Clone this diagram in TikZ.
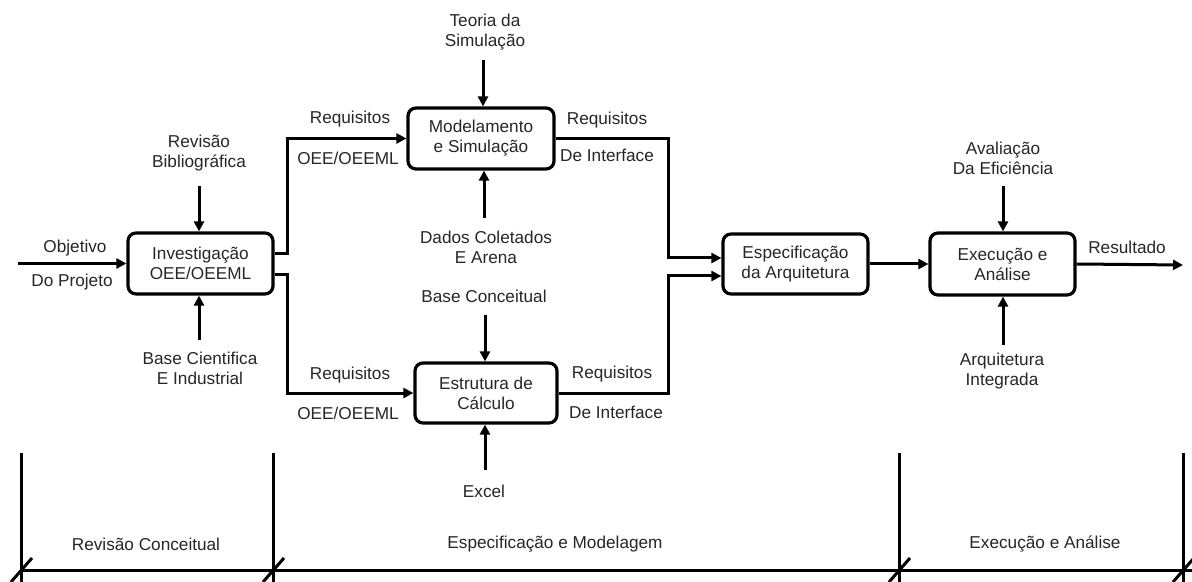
\documentclass[tikz,border=0pt]{standalone}
\usepackage{fontspec}
\setmainfont{Liberation Sans}
\usetikzlibrary{arrows.meta}
\begin{document}
\begin{tikzpicture}[x=0.5pt,y=-0.5pt,
  every node/.style={font=\fontsize{8.6}{10}\selectfont, text=black!85},
  procbox/.style={draw=black, line width=1.6pt, rounded corners=4pt, align=center,
    inner sep=0pt},
  lbl/.style={align=center, inner sep=0pt},
  arr/.style={line width=1.5pt, -{Triangle[length=5pt,width=5pt]}},
  rule/.style={line width=1.5pt}
]
\useasboundingbox (0,0) rectangle (1192,582);

% process boxes
\node[procbox, minimum width=72.5pt, minimum height=30.5pt] (inv) at (200.5,263.5) {Investigação\\OEE/OEEML};
\node[procbox, minimum width=73pt, minimum height=30.5pt] (mod) at (481,138.5) {Modelamento\\e Simulação};
\node[procbox, minimum width=71pt, minimum height=30pt] (est) at (486,393) {Estrutura de\\Cálculo};
\node[procbox, minimum width=72.5pt, minimum height=30pt] (esp) at (795.5,264) {Especificação\\da Arquitetura};
\node[procbox, minimum width=72.5pt, minimum height=31pt] (exe) at (1002.5,264) {Execução e\\Análise};

% free ends and bends
\coordinate (obj) at (18,263.5);
\coordinate (s1) at (287,254);
\coordinate (s3) at (287,275);
\coordinate (m1) at (668,258);
\coordinate (e1) at (668,276);
\coordinate (res) at (1183,265);
\coordinate (revA) at (199,186);
\coordinate (bciA) at (199,340);
\coordinate (teoA) at (483,60);
\coordinate (dadA) at (484,218);
\coordinate (bcoA) at (485,315);
\coordinate (excA) at (485,470);
\coordinate (avaA) at (1003,186);
\coordinate (arqA) at (1003,345);

% main flow
\draw[arr] (obj) -- (inv.west);
\draw[arr] (inv.east |- s1) -- (s1) |- (mod.west);
\draw[arr] (inv.east |- s3) -- (s3) |- (est.west);
\draw[arr] (mod.east) -| (m1) -- (esp.west |- m1);
\draw[arr] (est.east) -| (e1) -- (esp.west |- e1);
\draw[arr] (esp.east) -- (exe.west);
\draw[arr] (exe.east) -- (res);

% inputs from above and below
\draw[arr] (revA) -- (revA |- inv.north);
\draw[arr] (bciA) -- (bciA |- inv.south);
\draw[arr] (teoA) -- (teoA |- mod.north);
\draw[arr] (dadA) -- (dadA |- mod.south);
\draw[arr] (bcoA) -- (bcoA |- est.north);
\draw[arr] (excA) -- (excA |- est.south);
\draw[arr] (avaA) -- (avaA |- exe.north);
\draw[arr] (arqA) -- (arqA |- exe.south);

% labels
\node[lbl] (l1) at (75,248) {Objetivo};
\node[lbl] (l2) at (72,282) {Do Projeto};
\node[lbl] (l3) at (199,153) {Revisão\\Bibliográfica};
\node[lbl] (l4) at (200,368) {Base Cientifica\\E Industrial};
\node[lbl] (l5) at (350,119) {Requisitos};
\node[lbl] (l6) at (348,158) {OEE/OEEML};
\node[lbl] (l7) at (350,375) {Requisitos};
\node[lbl] (l8) at (348,413) {OEE/OEEML};
\node[lbl] (l9) at (485,32) {Teoria da\\Simulação};
\node[lbl] (l10) at (486,247.5) {Dados Coletados\\E Arena};
\node[lbl] (l11) at (484,296) {Base Conceitual};
\node[lbl] (l12) at (484,491) {Excel};
\node[lbl] (l13) at (607,120) {Requisitos};
\node[lbl] (l14) at (607,155) {De Interface};
\node[lbl] (l15) at (612,374) {Requisitos};
\node[lbl] (l16) at (616,412) {De Interface};
\node[lbl] (l17) at (1003,158) {Avaliação\\Da Eficiência};
\node[lbl] (l18) at (1002,371) {Arquitetura\\Integrada};
\node[lbl] (l19) at (1127,247) {Resultado};

% phase timeline
\draw[rule] (21,570) -- (1192,570);
\foreach \px in {21,273,899,1183} {
  \draw[rule] (\px,453) -- (\px,582);
  \draw[rule] (\px-10,582) -- (\px+11,558);
}
\node[lbl] (p1) at (146,544) {Revisão Conceitual};
\node[lbl] (p2) at (555,544) {Especificação e Modelagem};
\node[lbl] (p3) at (1045,544) {Execução e Análise};
\end{tikzpicture}
\end{document}
